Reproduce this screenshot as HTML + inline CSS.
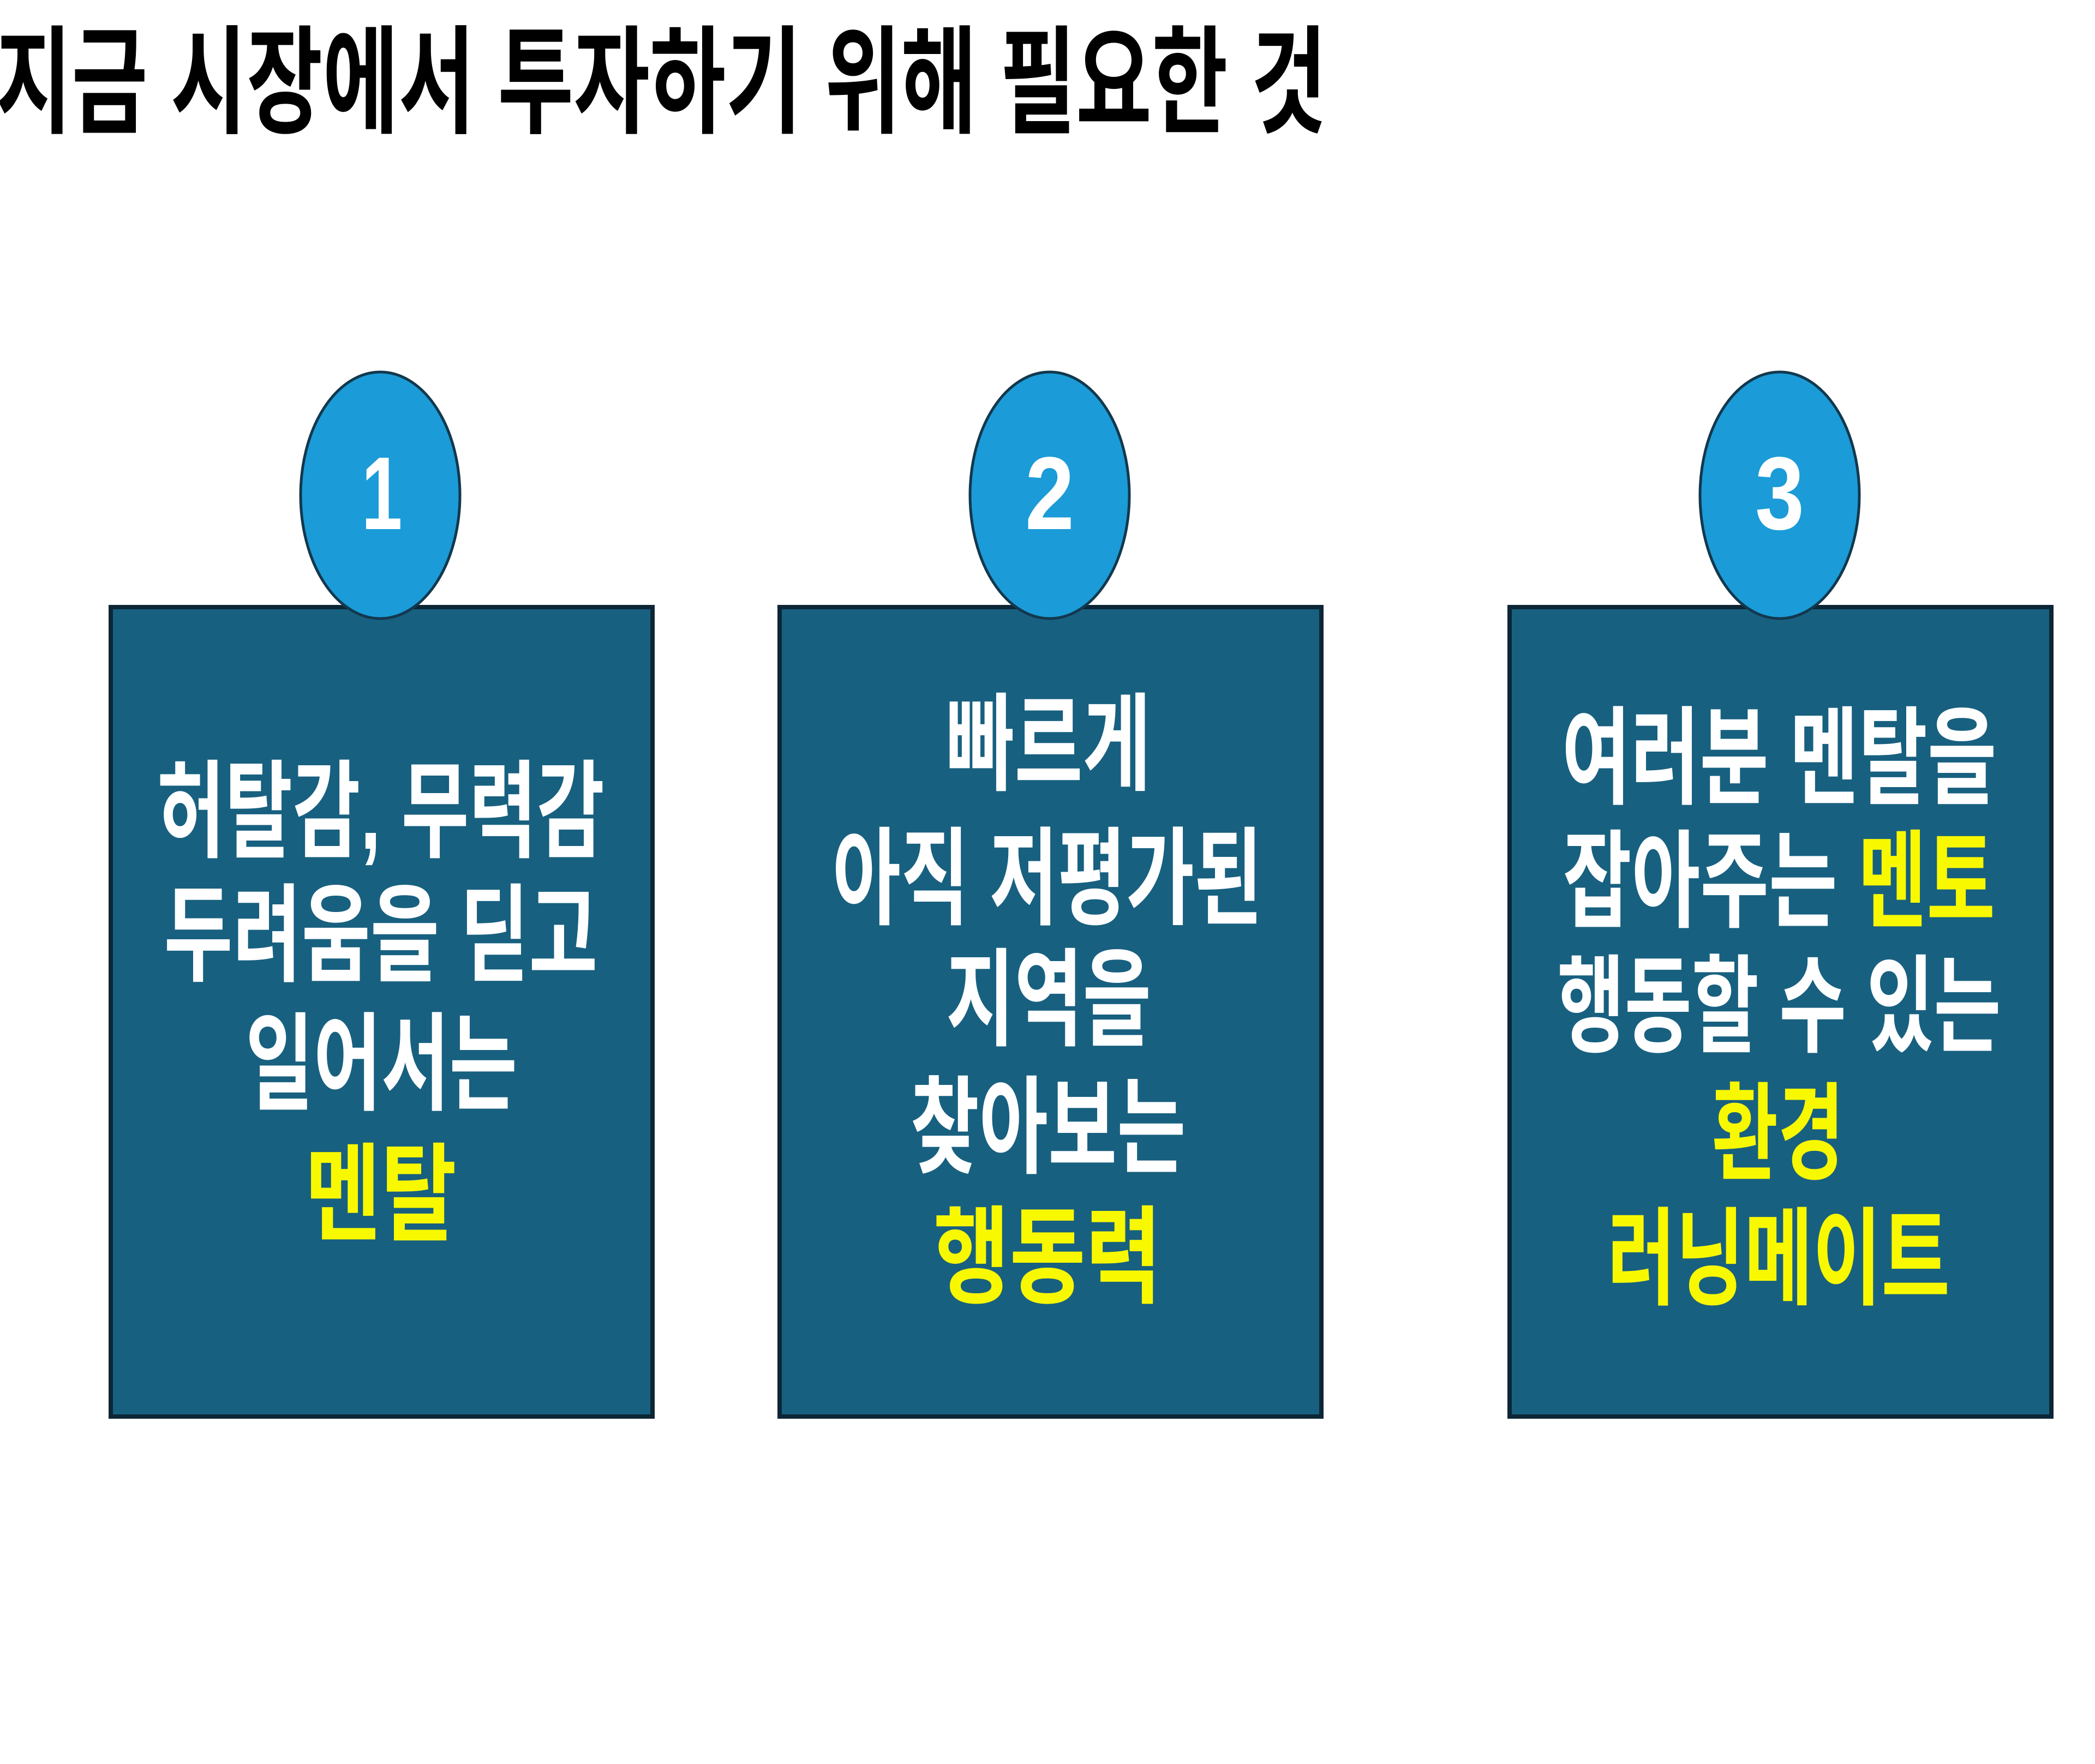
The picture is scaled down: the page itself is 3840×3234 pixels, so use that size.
<!DOCTYPE html>
<html><head><meta charset="utf-8"><style>
html,body{margin:0;padding:0;background:#fff;}
svg{display:block;}
text{font-family:"Liberation Sans","Noto Sans CJK KR","NanumGothic",sans-serif;font-weight:bold;}
</style></head><body>
<svg width="3840" height="3234" viewBox="0 0 3840 3234" xmlns="http://www.w3.org/2000/svg">
<rect width="3840" height="3234" fill="#ffffff"/>
<text x="-8" y="152" dominant-baseline="central" font-size="215" fill="#000" textLength="2440" lengthAdjust="spacingAndGlyphs">지금 시장에서 투자하기 위해 필요한 것</text>

<g fill="#186080" stroke="#0d2636" stroke-width="8">
<rect x="203" y="1113" width="993" height="1484"/>
<rect x="1429" y="1113" width="993" height="1484"/>
<rect x="2767" y="1113" width="993" height="1484"/>
</g>
<g fill="#1b9bd7" stroke="#12384d" stroke-width="5">
<ellipse cx="697" cy="908" rx="146" ry="226"/>
<ellipse cx="1924" cy="908" rx="146" ry="226"/>
<ellipse cx="3262" cy="908" rx="146" ry="226"/>
</g>
<g fill="#fff" font-size="190" text-anchor="middle" dominant-baseline="central">
<text x="700" y="905" textLength="75" lengthAdjust="spacingAndGlyphs">1</text>
<text x="1924" y="905" textLength="90" lengthAdjust="spacingAndGlyphs">2</text>
<text x="3262" y="905" textLength="90" lengthAdjust="spacingAndGlyphs">3</text>
</g>

<g font-size="195" text-anchor="middle" dominant-baseline="central" fill="#fff">
<text x="698" y="1489" textLength="820" lengthAdjust="spacingAndGlyphs">허탈감, 무력감</text>
<text x="698" y="1716" textLength="795" lengthAdjust="spacingAndGlyphs">두려움을 딛고</text>
<text x="699" y="1952" textLength="498" lengthAdjust="spacingAndGlyphs">일어서는</text>
<text x="698" y="2191" fill="#f8f800" textLength="278" lengthAdjust="spacingAndGlyphs">멘탈</text>

<text x="1922" y="1366" textLength="375" lengthAdjust="spacingAndGlyphs">빠르게</text>
<text x="1920" y="1612" textLength="788" lengthAdjust="spacingAndGlyphs">아직 저평가된</text>
<text x="1922" y="1834" textLength="376" lengthAdjust="spacingAndGlyphs">지역을</text>
<text x="1921" y="2068" textLength="505" lengthAdjust="spacingAndGlyphs">찾아보는</text>
<text x="1920" y="2306" fill="#f8f800" textLength="418" lengthAdjust="spacingAndGlyphs">행동력</text>

<text x="3261" y="1391" textLength="797" lengthAdjust="spacingAndGlyphs">여러분 멘탈을</text>
<text x="3261" y="1617" textLength="792" lengthAdjust="spacingAndGlyphs">잡아주는 <tspan fill="#f8f800">멘토</tspan></text>
<text x="3261" y="1846" textLength="813" lengthAdjust="spacingAndGlyphs">행동할 수 있는</text>
<text x="3259" y="2080" fill="#f8f800" textLength="242" lengthAdjust="spacingAndGlyphs">환경</text>
<text x="3260" y="2309" fill="#f8f800" textLength="628" lengthAdjust="spacingAndGlyphs">러닝메이트</text>
</g>
</svg>
</body></html>
